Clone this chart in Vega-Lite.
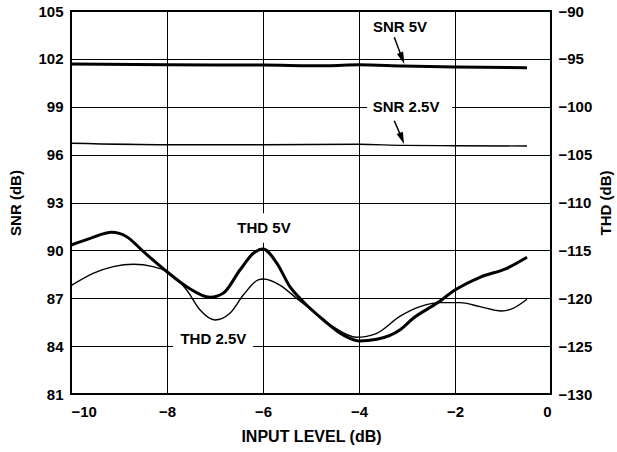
{
  "$schema": "https://vega.github.io/schema/vega-lite/v6.json",
  "width": 480,
  "height": 383,
  "autosize": {"type": "none"},
  "padding": {"left": 71, "top": 11, "right": 66, "bottom": 58},
  "background": "white",
  "config": {
    "view": {"stroke": "black", "strokeWidth": 2},
    "axis": {
      "labelFont": "Liberation Sans", "labelFontWeight": "bold", "labelFontSize": 15, "labelColor": "black",
      "titleFont": "Liberation Sans", "titleFontWeight": "bold", "titleFontSize": 15, "titleColor": "black",
      "ticks": false, "domain": false, "gridColor": "black", "gridOpacity": 1, "gridWidth": 1
    }
  },
  "datasets": {
    "snr": [
      {"curve": "SNR 5V", "level": -10, "snr": 101.68},
      {"curve": "SNR 5V", "level": -8, "snr": 101.63},
      {"curve": "SNR 5V", "level": -6, "snr": 101.61},
      {"curve": "SNR 5V", "level": -4.67, "snr": 101.57},
      {"curve": "SNR 5V", "level": -4, "snr": 101.63},
      {"curve": "SNR 5V", "level": -3.08, "snr": 101.55},
      {"curve": "SNR 5V", "level": -2, "snr": 101.49},
      {"curve": "SNR 5V", "level": -0.5, "snr": 101.45},
      {"curve": "SNR 2.5V", "level": -10, "snr": 96.71},
      {"curve": "SNR 2.5V", "level": -8, "snr": 96.62},
      {"curve": "SNR 2.5V", "level": -6, "snr": 96.62},
      {"curve": "SNR 2.5V", "level": -4, "snr": 96.65},
      {"curve": "SNR 2.5V", "level": -3.08, "snr": 96.58},
      {"curve": "SNR 2.5V", "level": -2, "snr": 96.56},
      {"curve": "SNR 2.5V", "level": -0.5, "snr": 96.54}
    ],
    "thd": [
      {"curve": "THD 5V", "level": -10, "thd": -114.44},
      {"curve": "THD 5V", "level": -9.6, "thd": -113.74},
      {"curve": "THD 5V", "level": -9.15, "thd": -113.11},
      {"curve": "THD 5V", "level": -8.84, "thd": -113.57},
      {"curve": "THD 5V", "level": -8.49, "thd": -115.14},
      {"curve": "THD 5V", "level": -8.0, "thd": -117.23},
      {"curve": "THD 5V", "level": -7.59, "thd": -118.79},
      {"curve": "THD 5V", "level": -7.1, "thd": -119.9},
      {"curve": "THD 5V", "level": -6.83, "thd": -119.48},
      {"curve": "THD 5V", "level": -6.48, "thd": -117.05},
      {"curve": "THD 5V", "level": -6.2, "thd": -115.3},
      {"curve": "THD 5V", "level": -6.0, "thd": -114.85},
      {"curve": "THD 5V", "level": -5.71, "thd": -116.35},
      {"curve": "THD 5V", "level": -5.44, "thd": -118.79},
      {"curve": "THD 5V", "level": -5.16, "thd": -120.36},
      {"curve": "THD 5V", "level": -4.74, "thd": -122.27},
      {"curve": "THD 5V", "level": -4.33, "thd": -123.84},
      {"curve": "THD 5V", "level": -4.0, "thd": -124.46},
      {"curve": "THD 5V", "level": -3.63, "thd": -124.29},
      {"curve": "THD 5V", "level": -3.15, "thd": -123.32},
      {"curve": "THD 5V", "level": -2.87, "thd": -122.09},
      {"curve": "THD 5V", "level": -2.38, "thd": -120.53},
      {"curve": "THD 5V", "level": -2.0, "thd": -119.14},
      {"curve": "THD 5V", "level": -1.48, "thd": -117.81},
      {"curve": "THD 5V", "level": -0.92, "thd": -116.87},
      {"curve": "THD 5V", "level": -0.5, "thd": -115.72},
      {"curve": "THD 2.5V", "level": -10, "thd": -118.69},
      {"curve": "THD 2.5V", "level": -9.54, "thd": -117.4},
      {"curve": "THD 2.5V", "level": -9.12, "thd": -116.7},
      {"curve": "THD 2.5V", "level": -8.7, "thd": -116.45},
      {"curve": "THD 2.5V", "level": -8.29, "thd": -116.7},
      {"curve": "THD 2.5V", "level": -8.0, "thd": -117.23},
      {"curve": "THD 2.5V", "level": -7.59, "thd": -119.14},
      {"curve": "THD 2.5V", "level": -7.31, "thd": -121.23},
      {"curve": "THD 2.5V", "level": -7.0, "thd": -122.27},
      {"curve": "THD 2.5V", "level": -6.69, "thd": -121.57},
      {"curve": "THD 2.5V", "level": -6.41, "thd": -119.66},
      {"curve": "THD 2.5V", "level": -6.1, "thd": -118.09},
      {"curve": "THD 2.5V", "level": -5.99, "thd": -117.99},
      {"curve": "THD 2.5V", "level": -5.65, "thd": -118.62},
      {"curve": "THD 2.5V", "level": -5.3, "thd": -120.01},
      {"curve": "THD 2.5V", "level": -4.95, "thd": -121.4},
      {"curve": "THD 2.5V", "level": -4.54, "thd": -122.97},
      {"curve": "THD 2.5V", "level": -4.05, "thd": -124.08},
      {"curve": "THD 2.5V", "level": -3.63, "thd": -123.66},
      {"curve": "THD 2.5V", "level": -3.15, "thd": -121.9},
      {"curve": "THD 2.5V", "level": -2.73, "thd": -120.88},
      {"curve": "THD 2.5V", "level": -2.31, "thd": -120.46},
      {"curve": "THD 2.5V", "level": -1.9, "thd": -120.46},
      {"curve": "THD 2.5V", "level": -1.48, "thd": -120.88},
      {"curve": "THD 2.5V", "level": -1.03, "thd": -121.33},
      {"curve": "THD 2.5V", "level": -0.79, "thd": -121.05},
      {"curve": "THD 2.5V", "level": -0.5, "thd": -120.11}
    ],
    "gaps": [
      {"level": -3.83, "level2": -2.06, "snr": 99.42, "snr2": 98.54},
      {"level": -6.48, "level2": -5.48, "snr": 92.32, "snr2": 90.48},
      {"level": -7.875, "level2": -6.21, "snr": 84.95, "snr2": 83.76}
    ],
    "labels": [
      {"label": "SNR 5V", "level": -3.146, "snr": 104.0},
      {"label": "SNR 2.5V", "level": -3.02, "snr": 99.0},
      {"label": "THD 5V", "level": -5.98, "snr": 91.43},
      {"label": "THD 2.5V", "level": -7.035, "snr": 84.43}
    ],
    "arrows": [
      {"level": -3.265, "snr": 103.35, "level2": -3.1, "snr2": 102.03},
      {"level": -3.265, "snr": 98.12, "level2": -3.106, "snr2": 97.01}
    ]
  },
  "layer": [
    {
      "layer": [
        {
          "data": {"name": "gaps"},
          "mark": {"type": "rect", "color": "white", "opacity": 1},
          "encoding": {
            "x": {"field": "level", "type": "quantitative", "scale": {"domain": [-10, 0], "nice": false},
                  "axis": {"values": [-10, -8, -6, -4, -2, 0], "grid": true, "labelPadding": 10, "title": "INPUT LEVEL (dB)", "titleFontSize": 16, "titlePadding": 9}},
            "x2": {"field": "level2"},
            "y": {"field": "snr", "type": "quantitative", "scale": {"domain": [81, 105], "nice": false},
                  "axis": {"orient": "left", "values": [81, 84, 87, 90, 93, 96, 99, 102, 105], "grid": true, "labelPadding": 8, "title": "SNR (dB)", "titlePadding": 14}},
            "y2": {"field": "snr2"}
          }
        },
        {
          "data": {"name": "snr"},
          "mark": {"type": "line", "color": "black", "interpolate": "monotone"},
          "encoding": {
            "x": {"field": "level", "type": "quantitative"},
            "y": {"field": "snr", "type": "quantitative"},
            "detail": {"field": "curve"},
            "strokeWidth": {"field": "curve", "type": "nominal", "scale": {"domain": ["SNR 5V", "SNR 2.5V"], "range": [3, 1.4]}, "legend": null}
          }
        },
        {
          "data": {"name": "arrows"},
          "mark": {"type": "rule", "color": "black", "strokeWidth": 1.5},
          "encoding": {
            "x": {"field": "level", "type": "quantitative"},
            "x2": {"field": "level2"},
            "y": {"field": "snr", "type": "quantitative"},
            "y2": {"field": "snr2"}
          }
        },
        {
          "data": {"name": "arrows"},
          "mark": {"type": "point", "shape": "M-0.55,-1L0.55,-1L0,1Z", "filled": true, "color": "black", "opacity": 1, "size": 144, "angle": -21},
          "encoding": {
            "x": {"field": "level2", "type": "quantitative"},
            "y": {"field": "snr2", "type": "quantitative"}
          }
        },
        {
          "data": {"name": "labels"},
          "mark": {"type": "text", "font": "Liberation Sans", "fontWeight": "bold", "fontSize": 15, "color": "black", "align": "center", "baseline": "middle"},
          "encoding": {
            "x": {"field": "level", "type": "quantitative"},
            "y": {"field": "snr", "type": "quantitative"},
            "text": {"field": "label"}
          }
        }
      ]
    },
    {
      "data": {"name": "thd"},
      "mark": {"type": "line", "color": "black", "interpolate": "monotone"},
      "encoding": {
        "x": {"field": "level", "type": "quantitative"},
        "y": {"field": "thd", "type": "quantitative", "scale": {"domain": [-130, -90], "nice": false},
              "axis": {"orient": "right", "values": [-130, -125, -120, -115, -110, -105, -100, -95, -90], "grid": false, "labelPadding": 7, "title": "THD (dB)", "titleAngle": 270, "titleBaseline": "top", "titlePadding": 7}},
        "detail": {"field": "curve"},
        "strokeWidth": {"field": "curve", "type": "nominal", "scale": {"domain": ["THD 5V", "THD 2.5V"], "range": [3, 1.4]}, "legend": null}
      }
    }
  ],
  "resolve": {"scale": {"y": "independent", "strokeWidth": "independent"}}
}
